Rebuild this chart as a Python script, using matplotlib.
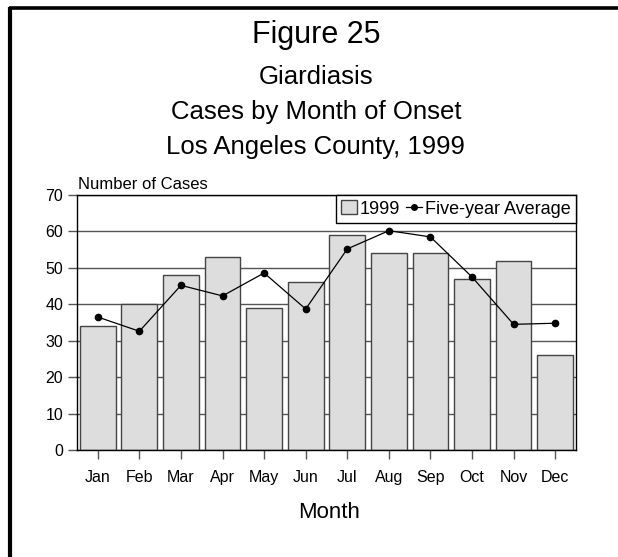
import matplotlib
matplotlib.use('Agg')
import matplotlib.pyplot as plt
from matplotlib.lines import Line2D
from matplotlib.patches import Patch
import numpy as np

plt.rcParams['font.family'] = ['Liberation Sans', 'DejaVu Sans']

months = ['Jan', 'Feb', 'Mar', 'Apr', 'May', 'Jun',
          'Jul', 'Aug', 'Sep', 'Oct', 'Nov', 'Dec']
cases_1999 = [34, 40, 48, 53, 39, 46, 59, 54, 54, 47, 52, 26]
five_year_avg = [36.5, 32.6, 45.2, 42.3, 48.6, 38.7,
                 55.2, 60.2, 58.5, 47.5, 34.5, 34.8]
yticks = [0, 10, 20, 30, 40, 50, 60, 70]

fig = plt.figure(figsize=(6.18, 5.57), dpi=100)
ax = fig.add_axes([0.1246, 0.1921, 0.8074, 0.4578])

x = np.arange(len(months))
ax.set_axisbelow(True)
ax.yaxis.grid(True, color='#555555', lw=1)
ax.bar(x, cases_1999, width=0.86, color='#dddddd', edgecolor='#444444', lw=1)
ax.plot(x, five_year_avg, color='black', lw=0.9, marker='o', ms=4.5)

ax.set_xlim(-0.5, 11.5)
ax.set_ylim(0, 70)
ax.set_yticks(yticks)
ax.set_xticks(x)
ax.set_xticklabels(months)
ax.tick_params(axis='both', labelsize=11.5, color='#555555', length=6.5, width=1)
ax.tick_params(axis='x', pad=8)
for s in ax.spines.values():
    s.set_color('black')
    s.set_linewidth(1)

handles = [Patch(facecolor='#dddddd', edgecolor='#444444', lw=1),
           Line2D([], [], color='black', lw=0.9, marker='o', ms=4)]
leg = ax.legend(handles, ['1999', 'Five-year Average'], loc='upper right',
                ncol=2, fontsize=13, frameon=True, fancybox=False,
                edgecolor='black', framealpha=1, borderaxespad=0,
                handlelength=0.9, handletextpad=0.15, columnspacing=0.3,
                borderpad=0.3, handleheight=0.8)
leg.get_frame().set_linewidth(1)

fig.text(0.511, 0.9228, 'Figure 25', ha='center', va='baseline', fontsize=22)
fig.text(0.511, 0.849, 'Giardiasis', ha='center', va='baseline', fontsize=18.5)
fig.text(0.511, 0.7864, 'Cases by Month of Onset', ha='center', va='baseline', fontsize=18.5)
fig.text(0.511, 0.7235, 'Los Angeles County, 1999', ha='center', va='baseline', fontsize=18.5)
fig.text(0.126, 0.6607, 'Number of Cases', ha='left', va='baseline', fontsize=12)
fig.text(0.532, 0.079, 'Month', ha='center', va='center', fontsize=16)

# page frame (top and left edge)
fig.add_artist(Line2D([0.015, 1.0], [0.986, 0.986], color='black', lw=2.6,
                      transform=fig.transFigure, solid_capstyle='butt'))
fig.add_artist(Line2D([0.0165, 0.0165], [0.0, 0.988], color='black', lw=3,
                      transform=fig.transFigure, solid_capstyle='butt'))

fig.savefig('out.png', dpi=100)
